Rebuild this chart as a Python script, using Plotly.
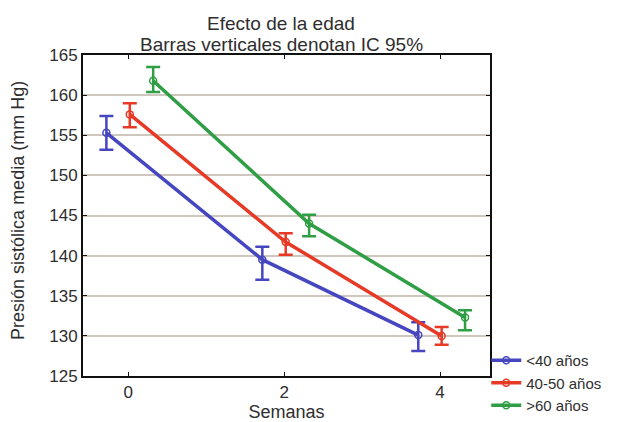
import plotly.graph_objects as go

weeks = [0, 2, 4]
groups = ["<40 años", "40-50 años", ">60 años"]
offsets = [-0.28, 0.02, 0.32]
colors = ["#4646c0", "#e63a26", "#2f9e44"]
means = [
    [155.3, 139.5, 130.1],
    [157.6, 141.7, 130.0],
    [161.8, 144.0, 132.3],
]
upper = [
    [157.4, 141.1, 131.7],
    [159.0, 142.8, 131.1],
    [163.5, 145.1, 133.2],
]
lower = [
    [153.2, 137.0, 128.1],
    [156.0, 140.1, 128.9],
    [160.4, 142.4, 130.7],
]
title_lines = ["Efecto de la edad", "Barras verticales denotan IC 95%"]
y_title = "Presión sistólica media (mm Hg)"

fig = go.Figure()
for g, off, c, m, u, lo in zip(groups, offsets, colors, means, upper, lower):
    fig.add_trace(go.Scatter(
        x=[w + off for w in weeks], y=m, name=g, mode="lines+markers",
        line=dict(color=c, width=3.5),
        marker=dict(symbol="circle-open", size=7, color=c, line=dict(width=1.5)),
        error_y=dict(type="data", symmetric=False,
                     array=[a - b for a, b in zip(u, m)],
                     arrayminus=[b - a for a, b in zip(lo, m)],
                     color=c, thickness=2.5, width=7),
    ))

txt = "#2e2e2e"
fig.add_annotation(text=title_lines[0], xref="paper", yref="paper",
                   x=0.4865, y=1.059, xanchor="center", yanchor="bottom",
                   showarrow=False, font=dict(size=19, color=txt))
fig.add_annotation(text=title_lines[1], xref="paper", yref="paper",
                   x=0.4865, y=0.994, xanchor="center", yanchor="bottom",
                   showarrow=False, font=dict(size=19, color=txt))
fig.add_annotation(text=y_title, xref="paper", yref="paper",
                   x=-0.16, y=0.517, xanchor="center", yanchor="middle",
                   textangle=-90, showarrow=False, font=dict(size=18, color=txt))

fig.update_layout(
    width=625, height=422,
    margin=dict(l=83, r=135, t=55, b=46, autoexpand=False),
    paper_bgcolor="white", plot_bgcolor="white",
    font=dict(family="Liberation Sans, Arial, sans-serif", size=17, color=txt),
    showlegend=True,
    legend=dict(xref="container", yref="container",
                x=0.778, xanchor="left", y=0.0, yanchor="bottom",
                bgcolor="rgba(0,0,0,0)", font=dict(size=15, color=txt),
                tracegroupgap=0, itemwidth=30),
)
fig.update_xaxes(
    range=[-0.58, 4.64], tickvals=[0, 2, 4], ticktext=["0", "2", "4"],
    title=dict(text="Semanas", standoff=0, font=dict(size=18)),
    showline=True, linecolor="#111", linewidth=2, mirror="allticks",
    ticks="inside", ticklen=4, tickcolor="#111", showgrid=False, zeroline=False,
)
fig.update_yaxes(
    range=[125, 165], dtick=5,
    showline=True, linecolor="#111", linewidth=2, mirror="allticks",
    ticks="inside", ticklen=4, tickcolor="#111",
    showgrid=True, gridcolor="#cfc6be", gridwidth=1.5, zeroline=False,
)

fig.write_html("out.html")
